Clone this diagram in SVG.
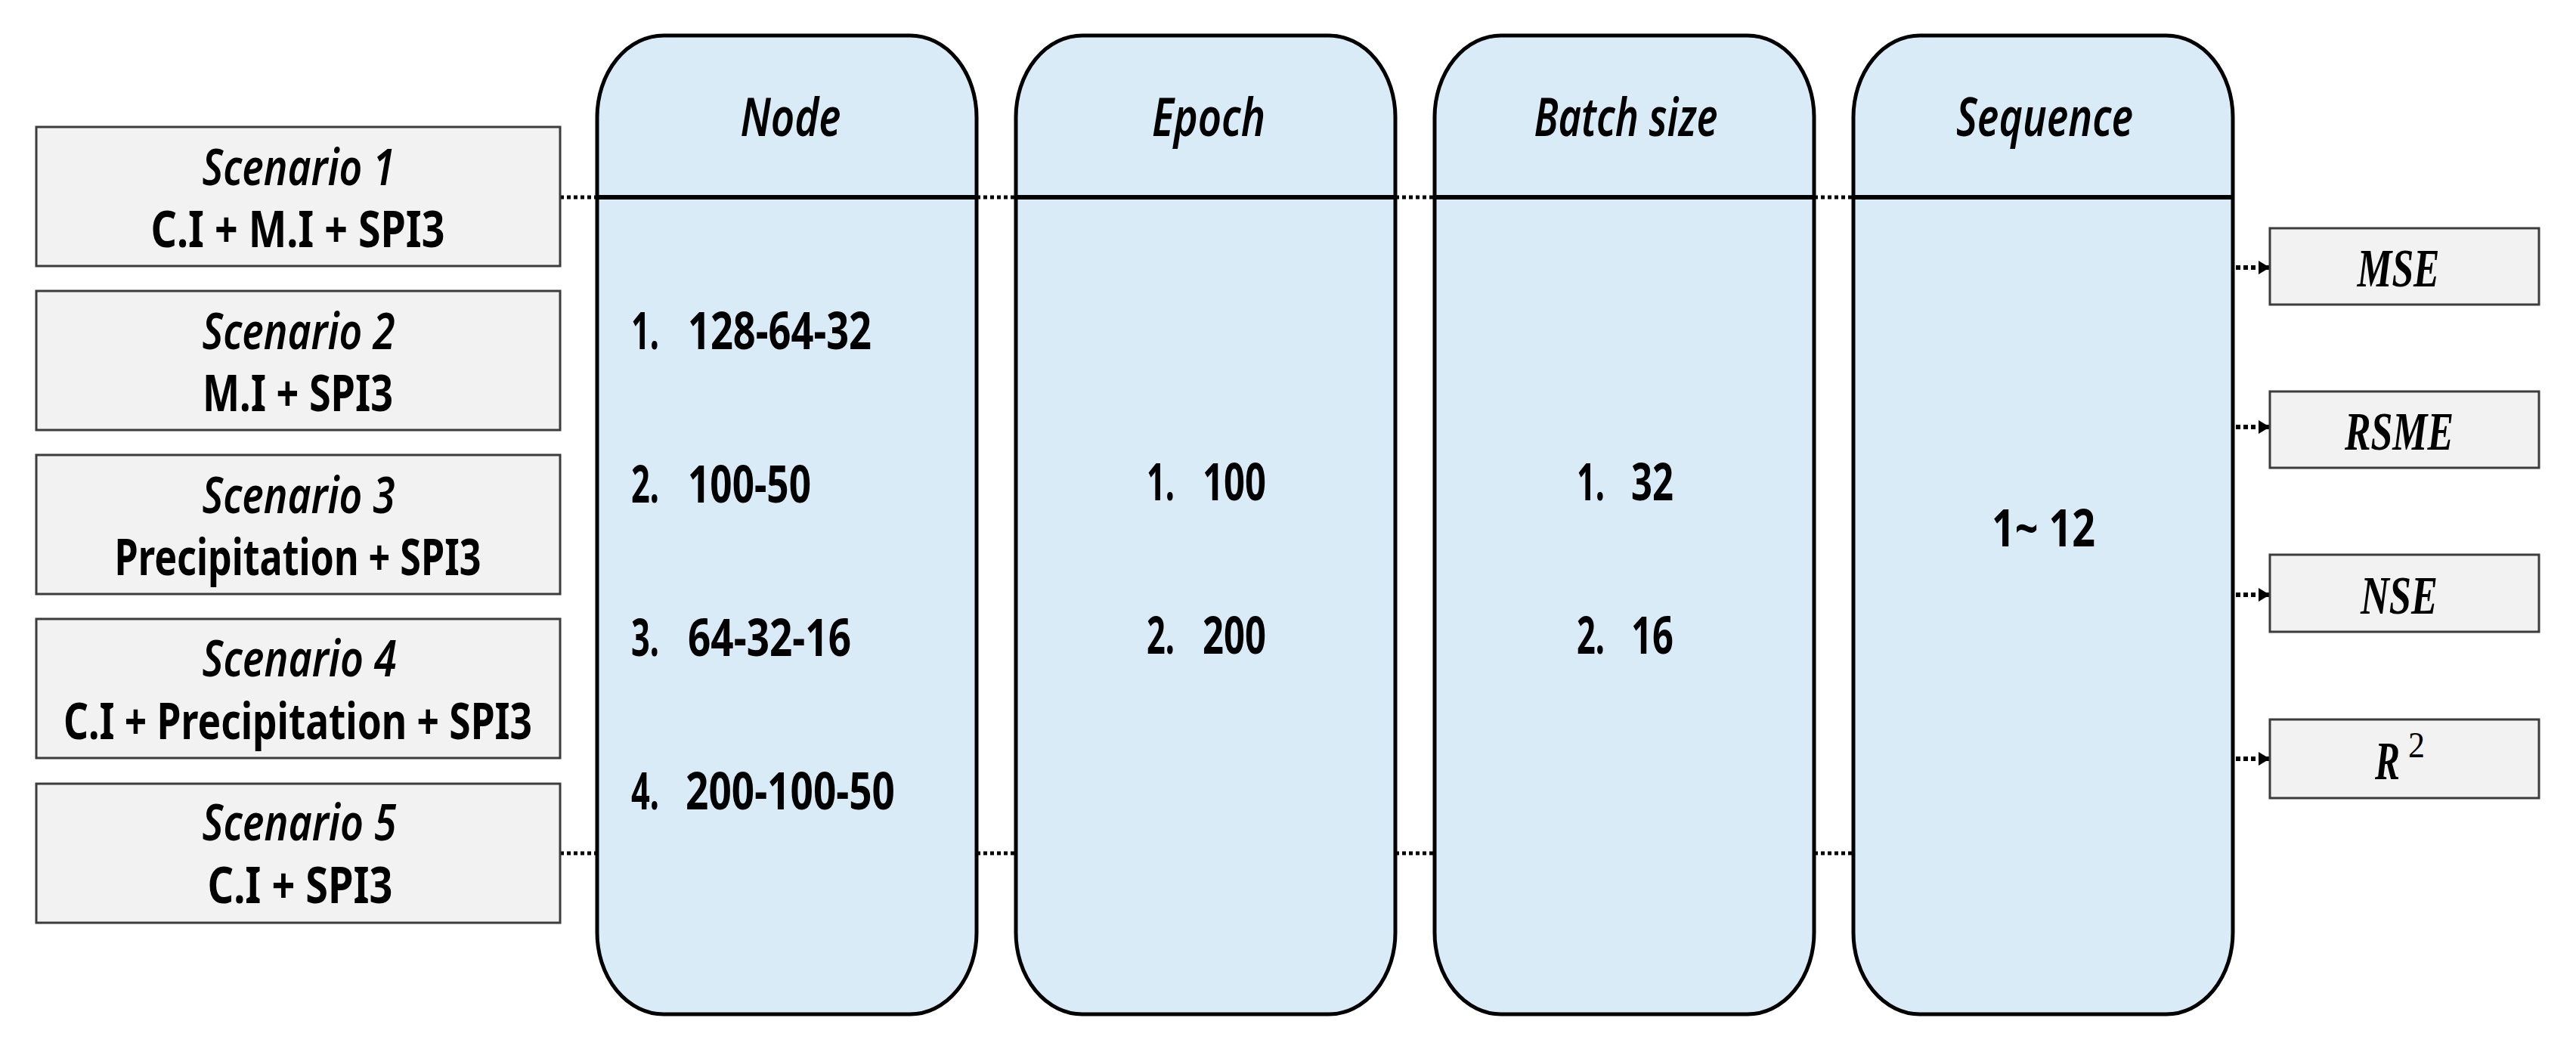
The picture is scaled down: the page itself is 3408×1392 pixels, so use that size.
<svg xmlns="http://www.w3.org/2000/svg" width="3408" height="1392" viewBox="0 0 3408 1392">
<defs>
<style>
.scen{fill:#F2F2F2;stroke:#3C3C3C;stroke-width:3}
.col{fill:#DAEBF8;stroke:#000;stroke-width:5}
.hdr{stroke:#000;stroke-width:6}
.t{font-family:"Noto Sans","Open Sans","Liberation Sans",sans-serif;font-weight:700;fill:#000;font-size:66px}
.ti{font-family:"Noto Sans","Open Sans","Liberation Sans",sans-serif;font-weight:600;font-style:italic;fill:#000;font-size:66px}
.th{font-family:"Noto Sans","Open Sans","Liberation Sans",sans-serif;font-weight:600;font-style:italic;fill:#000;font-size:70px}
.tv{font-family:"Noto Sans","Open Sans","Liberation Sans",sans-serif;font-weight:700;fill:#000;font-size:69px}
.tm{font-family:"Liberation Serif","DejaVu Serif",serif;font-weight:700;font-style:italic;fill:#000;font-size:72px}
.dot{fill:none;stroke:#000;stroke-width:5;stroke-dasharray:5 4}
.arr{fill:none;stroke:#000;stroke-width:6;stroke-dasharray:6 4;marker-end:url(#ah)}
</style>
<marker id="ah" markerUnits="userSpaceOnUse" markerWidth="15" markerHeight="18" refX="15" refY="9" orient="auto">
<path d="M0,0 L15,9 L0,18 Z" fill="#000" stroke="none"/>
</marker>
</defs>
<rect width="3408" height="1392" fill="#FFFFFF"/>

<g id="connectors">
<path class="dot" d="M741,261 H790"/>
<path class="dot" d="M1292,261 H1344"/>
<path class="dot" d="M1846,261 H1898"/>
<path class="dot" d="M2400,261 H2452"/>
<path class="dot" d="M741,1129 H790"/>
<path class="dot" d="M1292,1129 H1344"/>
<path class="dot" d="M1846,1129 H1898"/>
<path class="dot" d="M2400,1129 H2452"/>
<path class="dot" d="M2950,565 V690"/>
<path class="arr" d="M2958,354 H3003"/>
<path class="arr" d="M2958,565 H3003"/>
<path class="arr" d="M2958,787 H3003"/>
<path class="arr" d="M2958,1004 H3003"/>
</g>

<g id="scenario1">
<rect class="scen" x="48" y="168" width="693" height="184"/>
<text class="ti" x="395" y="245" text-anchor="middle" textLength="255" lengthAdjust="spacingAndGlyphs">Scenario 1</text>
<text class="t" x="394" y="327" text-anchor="middle" textLength="389" lengthAdjust="spacingAndGlyphs">C.I + M.I + SPI3</text>
</g>
<g id="scenario2">
<rect class="scen" x="48" y="385" width="693" height="184"/>
<text class="ti" x="395" y="462" text-anchor="middle" textLength="255" lengthAdjust="spacingAndGlyphs">Scenario 2</text>
<text class="t" x="394" y="544" text-anchor="middle" textLength="252" lengthAdjust="spacingAndGlyphs">M.I + SPI3</text>
</g>
<g id="scenario3">
<rect class="scen" x="48" y="602" width="693" height="184"/>
<text class="ti" x="395" y="679" text-anchor="middle" textLength="255" lengthAdjust="spacingAndGlyphs">Scenario 3</text>
<text class="t" x="394" y="761" text-anchor="middle" textLength="485" lengthAdjust="spacingAndGlyphs">Precipitation + SPI3</text>
</g>
<g id="scenario4">
<rect class="scen" x="48" y="819" width="693" height="184"/>
<text class="ti" x="396" y="895" text-anchor="middle" textLength="257" lengthAdjust="spacingAndGlyphs">Scenario 4</text>
<text class="t" x="394" y="978" text-anchor="middle" textLength="620" lengthAdjust="spacingAndGlyphs">C.I + Precipitation + SPI3</text>
</g>
<g id="scenario5">
<rect class="scen" x="48" y="1037" width="693" height="184"/>
<text class="ti" x="396" y="1112" text-anchor="middle" textLength="257" lengthAdjust="spacingAndGlyphs">Scenario 5</text>
<text class="t" x="397" y="1195" text-anchor="middle" textLength="245" lengthAdjust="spacingAndGlyphs">C.I + SPI3</text>
</g>

<g id="node">
<rect class="col" x="790" y="47" width="502" height="1295" rx="88" ry="108"/>
<line class="hdr" x1="790" y1="261" x2="1292" y2="261"/>
<text class="th" x="1046" y="180" text-anchor="middle" textLength="133" lengthAdjust="spacingAndGlyphs">Node</text>
<text class="tv" y="462"><tspan x="835" textLength="37" lengthAdjust="spacingAndGlyphs">1.</tspan><tspan x="910" textLength="243" lengthAdjust="spacingAndGlyphs">128-64-32</tspan></text>
<text class="tv" y="665"><tspan x="835" textLength="37" lengthAdjust="spacingAndGlyphs">2.</tspan><tspan x="910" textLength="163" lengthAdjust="spacingAndGlyphs">100-50</tspan></text>
<text class="tv" y="868"><tspan x="835" textLength="37" lengthAdjust="spacingAndGlyphs">3.</tspan><tspan x="910" textLength="216" lengthAdjust="spacingAndGlyphs">64-32-16</tspan></text>
<text class="tv" y="1071"><tspan x="835" textLength="37" lengthAdjust="spacingAndGlyphs">4.</tspan><tspan x="907" textLength="277" lengthAdjust="spacingAndGlyphs">200-100-50</tspan></text>
</g>

<g id="epoch">
<rect class="col" x="1344" y="47" width="502" height="1295" rx="88" ry="108"/>
<line class="hdr" x1="1344" y1="261" x2="1846" y2="261"/>
<text class="th" x="1599" y="180" text-anchor="middle" textLength="150" lengthAdjust="spacingAndGlyphs">Epoch</text>
<text class="tv" y="662"><tspan x="1517" textLength="37" lengthAdjust="spacingAndGlyphs">1.</tspan><tspan x="1591" textLength="84" lengthAdjust="spacingAndGlyphs">100</tspan></text>
<text class="tv" y="865"><tspan x="1517" textLength="37" lengthAdjust="spacingAndGlyphs">2.</tspan><tspan x="1591" textLength="84" lengthAdjust="spacingAndGlyphs">200</tspan></text>
</g>

<g id="batchsize">
<rect class="col" x="1898" y="47" width="502" height="1295" rx="88" ry="108"/>
<line class="hdr" x1="1898" y1="261" x2="2400" y2="261"/>
<text class="th" x="2151" y="180" text-anchor="middle" textLength="243" lengthAdjust="spacingAndGlyphs">Batch size</text>
<text class="tv" y="662"><tspan x="2086" textLength="37" lengthAdjust="spacingAndGlyphs">1.</tspan><tspan x="2158" textLength="56" lengthAdjust="spacingAndGlyphs">32</tspan></text>
<text class="tv" y="865"><tspan x="2086" textLength="37" lengthAdjust="spacingAndGlyphs">2.</tspan><tspan x="2158" textLength="56" lengthAdjust="spacingAndGlyphs">16</tspan></text>
</g>

<g id="sequence">
<rect class="col" x="2452" y="47" width="502" height="1295" rx="88" ry="108"/>
<line class="hdr" x1="2452" y1="261" x2="2954" y2="261"/>
<text class="th" x="2705" y="180" text-anchor="middle" textLength="234" lengthAdjust="spacingAndGlyphs">Sequence</text>
<text class="tv" x="2635" y="723" textLength="137" lengthAdjust="spacingAndGlyphs">1~ 12</text>
</g>

<g id="mse">
<rect class="scen" x="3003" y="302" width="356" height="101"/>
<text class="tm" x="3173" y="379" text-anchor="middle" textLength="109" lengthAdjust="spacingAndGlyphs">MSE</text>
</g>
<g id="rsme">
<rect class="scen" x="3003" y="518" width="356" height="101"/>
<text class="tm" x="3174" y="595" text-anchor="middle" textLength="144" lengthAdjust="spacingAndGlyphs">RSME</text>
</g>
<g id="nse">
<rect class="scen" x="3003" y="734" width="356" height="102"/>
<text class="tm" x="3174" y="812" text-anchor="middle" textLength="102" lengthAdjust="spacingAndGlyphs">NSE</text>
</g>
<g id="r2">
<rect class="scen" x="3003" y="952" width="356" height="104"/>
<text class="tm" y="1031"><tspan x="3142" textLength="33" lengthAdjust="spacingAndGlyphs">R</tspan><tspan x="3186" y="1002" font-style="normal" font-weight="400" font-size="48" textLength="22" lengthAdjust="spacingAndGlyphs">2</tspan></text>
</g>
</svg>
